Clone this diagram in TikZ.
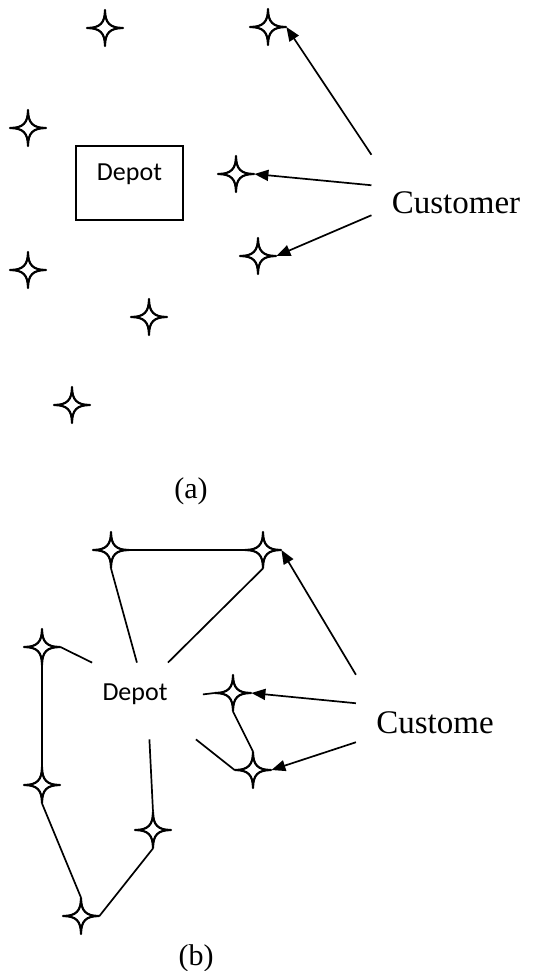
\documentclass[tikz,border=0pt]{standalone}
\usepackage{fontspec}
\setmainfont{Liberation Serif}
\newfontfamily\depotfont{Carlito}
\usetikzlibrary{arrows.meta}

\tikzset{
    spot/.style={circle, inner sep=0pt, minimum size=18pt},
    custstar/.pic={
        \draw[line width=1.1pt, line join=round, fill=white]
            (0,-18) .. controls (0,-5) and (5,0) .. (18,0)
                    .. controls (5,0) and (0,5) .. (0,18)
                    .. controls (0,5) and (-5,0) .. (-18,0)
                    .. controls (-5,0) and (0,-5) .. cycle;
    },
    route/.style={line width=0.85pt},
    pointer/.style={line width=0.85pt, -{Triangle[length=7pt,width=5.5pt]}},
    depotbox/.style={draw, line width=0.8pt, minimum width=53.5pt, minimum height=37pt,
        font=\depotfont\fontsize{13}{15}\selectfont, text depth=10.5pt},
    depotzone/.style={inner xsep=5pt, text width=45pt, align=left, minimum height=38pt,
        font=\depotfont\fontsize{13}{15}\selectfont, text depth=8.5pt},
    custlabel/.style={anchor=base, font=\fontsize{16.5}{18}\selectfont, inner xsep=10pt, inner ysep=18pt},
    caption/.style={font=\fontsize{15}{17}\selectfont}
}

\begin{document}
\begin{tikzpicture}[x=0.5pt, y=-0.5pt]
            \useasboundingbox (0,0) rectangle (533,971);

            % (a) customers scattered around the depot
            \node[depotbox] (depotA) at (129.5,183) {Depot};
            \node[custlabel] (custA) at (456,213) {Customer};

            \node[spot] (a1) at (105,28) {};
            \node[spot] (a2) at (268,27) {};
            \node[spot] (a3) at (28,128) {};
            \node[spot] (a4) at (236,174) {};
            \node[spot] (a5) at (28,270) {};
            \node[spot] (a6) at (258,256) {};
            \node[spot] (a7) at (149,317) {};
            \node[spot] (a8) at (72,405) {};

            \node[caption] (capA) at (191,491) {(a)};

            % (b) the same customers served by routes out of the depot
            \node[depotzone] (depotB) at (147.5,701) {Depot};
            \node[custlabel] (custB) at (435,733) {Custome};

            \node[spot] (b1) at (111,550) {};
            \node[spot] (b2) at (263,550) {};
            \node[spot] (b3) at (42,647) {};
            \node[spot] (b4) at (233,693) {};
            \node[spot] (b5) at (42,785) {};
            \node[spot] (b6) at (253,770) {};
            \node[spot] (b7) at (153,830) {};
            \node[spot] (b8) at (81,916) {};

            \node[caption] (capB) at (196,958) {(b)};

            \draw[route] (depotB) -- (b1.south);
            \draw[route] (b1.east) -- (b2.west);
            \draw[route] (b2.south) -- (depotB.62);
            \draw[route] (depotB.north west) -- (b3.east);
            \draw[route] (b3.south) -- (b5.north);
            \draw[route] (b5.south) -- (b8.north);
            \draw[route] (b8.east) -- (b7.south);
            \draw[route] (b7.north) -- (depotB);
            \draw[route] (depotB) -- (b4.west);
            \draw[route] (b4.south) -- (b6.north);
            \draw[route] (b6.west) -- (depotB);

            \foreach \s in {a1,a2,a3,a4,a5,a6,a7,a8,b1,b2,b3,b4,b5,b6,b7,b8}
                \pic at (\s) {custstar};

            \draw[pointer] (custA.north west) -- (a2.east);
            \draw[pointer] ([yshift=8.5pt]custA.west) -- (a4.east);
            \draw[pointer] ([yshift=-6.5pt]custA.west) -- (a6.east);

            \draw[pointer] (custB.north west) -- (b2.east);
            \draw[pointer] ([yshift=9.5pt]custB.west) -- (b4.east);
            \draw[pointer] ([yshift=-10pt]custB.west) -- (b6.east);
\end{tikzpicture}
\end{document}
